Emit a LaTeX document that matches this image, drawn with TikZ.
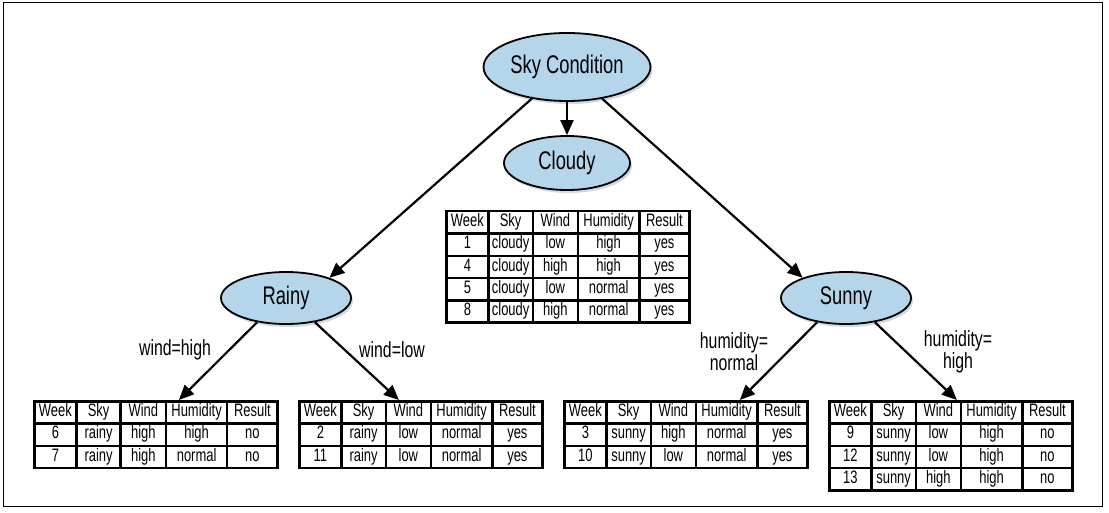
\documentclass[tikz,border=0pt]{standalone}
\usepackage{fontspec}
\setmainfont{Liberation Sans}[FakeStretch=0.72]
\usepackage{xcolor}
\usetikzlibrary{arrows.meta,matrix,shapes.geometric,shadows}
\definecolor{nodeblue}{RGB}{180,213,234}

\begin{document}
\begin{tikzpicture}[x=1pt, y=-1pt,
	oval/.style={ellipse, draw, line width=1.8, fill=nodeblue, inner sep=0, font=\fontsize{25.5}{28}\selectfont,
		drop shadow={shadow xshift=2pt, shadow yshift=-3pt, opacity=0.3}},
	cell/.style={draw, line width=1.25, minimum height=21, inner xsep=1, inner ysep=0, text height=12.5, text depth=4, font=\fontsize{18}{20}\selectfont},
	tbl/.style={matrix of nodes, draw, line width=2.5, inner sep=0pt, column sep=0pt, row sep=0pt, nodes={cell},
		column 1/.style={nodes={minimum width=41}}, column 2/.style={nodes={minimum width=43}},
		column 3/.style={nodes={minimum width=44}}, column 4/.style={nodes={minimum width=60}},
		column 5/.style={nodes={minimum width=49}}},
	lbl/.style={font=\fontsize{22}{22}\selectfont, align=center, inner sep=0},
	arr/.style={-{Triangle[length=15pt, width=13pt]}, line width=2.2}
]
\useasboundingbox (0,0) rectangle (1109,513);
\draw[line width=1] (3,3) rectangle (1102,506);

% tree nodes
\node[oval, minimum width=167, minimum height=68] (sky) at (567,67) {Sky Condition};
\node[oval, minimum width=126, minimum height=54] (cloudy) at (567,163) {Cloudy};
\node[oval, minimum width=130, minimum height=52] (rainy) at (286,298) {Rainy};
\node[oval, minimum width=130, minimum height=52] (sunny) at (846,298) {Sunny};

% tables
\matrix[tbl, anchor=north west] (tcloudy) at (445,210) {
Week & Sky & Wind & Humidity & Result \\
1 & cloudy & low & high & yes \\
4 & cloudy & high & high & yes \\
5 & cloudy & low & normal & yes \\
8 & cloudy & high & normal & yes \\
};
\matrix[tbl, anchor=north west] (thigh) at (33,400) {
Week & Sky & Wind & Humidity & Result \\
6 & rainy & high & high & no \\
7 & rainy & high & normal & no \\
};
\matrix[tbl, anchor=north west] (tlow) at (298,400) {
Week & Sky & Wind & Humidity & Result \\
2 & rainy & low & normal & yes \\
11 & rainy & low & normal & yes \\
};
\matrix[tbl, anchor=north west] (tnormal) at (563,400) {
Week & Sky & Wind & Humidity & Result \\
3 & sunny & high & normal & yes \\
10 & sunny & low & normal & yes \\
};
\matrix[tbl, anchor=north west] (thumid) at (828,400) {
Week & Sky & Wind & Humidity & Result \\
9 & sunny & low & high & no \\
12 & sunny & low & high & no \\
13 & sunny & high & high & no \\
};

% branch labels
\node[lbl] (lwhigh) at (175,350) {wind=high};
\node[lbl] (lwlow) at (392,350) {wind=low};
\node[lbl] (lhnormal) at (734,352) {humidity=\\normal};
\node[lbl] (lhhigh) at (958,352) {humidity=\\high};

\draw[arr] (sky) -- (cloudy);
\draw[arr] (sky.222) -- (rainy.25);
\draw[arr] (sky.318) -- (sunny.155);
\draw[arr] (rainy.220) -- ([xshift=23pt]thigh.north);
\draw[arr] (rainy.320) -- ([xshift=-22pt]tlow.north);
\draw[arr] (sunny.220) -- ([xshift=54pt]tnormal.north);
\draw[arr] (sunny.320) -- ([xshift=6pt]thumid.north);
\end{tikzpicture}
\end{document}
